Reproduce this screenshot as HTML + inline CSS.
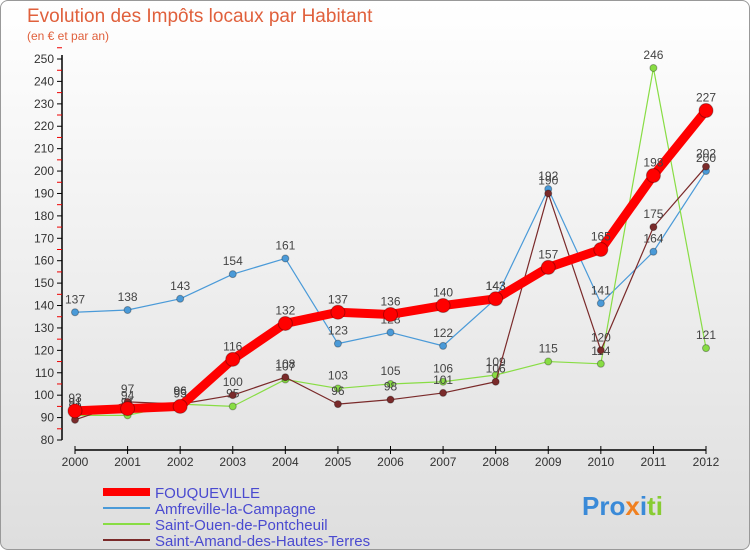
<!DOCTYPE html>
<html><head><meta charset="utf-8"><style>
body{margin:0;width:750px;height:550px;overflow:hidden;font-family:"Liberation Sans",sans-serif}
#wrap{position:absolute;left:0;top:0;width:748px;height:548px;border:1px solid #999;border-radius:8px;background:linear-gradient(#fff,#dedede);overflow:hidden}
</style></head><body>
<div id="wrap">
<svg id="chart" width="750" height="550" style="position:absolute;left:-1px;top:-1px" font-family="Liberation Sans, sans-serif">
<text x="27" y="22" font-size="19" fill="#e0603c">Evolution des Impôts locaux par Habitant</text>
<text x="27" y="40" font-size="12" fill="#e0603c">(en € et par an)</text>
<g id="axes"></g><g id="series"></g>
<g font-size="15" fill="#4a4ad0">
<line x1="103" y1="492" x2="150" y2="492" stroke="#f00" stroke-width="8"/>
<text x="155" y="498">FOUQUEVILLE</text>
<line x1="103" y1="508" x2="150" y2="508" stroke="#4a9ad8" stroke-width="2"/>
<text x="155" y="514">Amfreville-la-Campagne</text>
<line x1="103" y1="524" x2="150" y2="524" stroke="#88dd44" stroke-width="2"/>
<text x="155" y="530">Saint-Ouen-de-Pontcheuil</text>
<line x1="103" y1="540" x2="150" y2="540" stroke="#7a2a2a" stroke-width="2"/>
<text x="155" y="546">Saint-Amand-des-Hautes-Terres</text>
</g>
<text x="582" y="515" font-size="26" font-weight="bold"><tspan fill="#3a8ad8">Pro</tspan><tspan fill="#f08020">x</tspan><tspan fill="#3a8ad8">i</tspan><tspan fill="#88cc33">ti</tspan></text>
</svg></div>
<script>
const years=[2000,2001,2002,2003,2004,2005,2006,2007,2008,2009,2010,2011,2012];
const fouqueville=[93,94,95,116,132,137,136,140,143,157,165,198,227];
const amfreville=[137,138,143,154,161,123,128,122,143,192,141,164,200];
const saintOuen=[91,91,96,95,107,103,105,106,109,115,114,246,121];
const saintAmand=[89,97,96,100,108,96,98,101,106,190,120,175,202];
const yTicks=[80,90,100,110,120,130,140,150,160,170,180,190,200,210,220,230,240,250];
const NS="http://www.w3.org/2000/svg";
const X=i=>75+i*(706-75)/(years.length-1);
const Y=v=>440-(v-80)*(440-59)/170;
function mk(t,a,p){const e=document.createElementNS(NS,t);for(const k in a)e.setAttribute(k,a[k]);p.appendChild(e);return e;}
const ax=document.getElementById('axes');
const yl=mk('line',{x1:62,y1:55,x2:62,y2:440,stroke:'#000','stroke-width':1.5},ax);


yTicks.forEach(v=>{
 mk('line',{x1:57,y1:Y(v),x2:62,y2:Y(v),stroke:'#000'},ax);
 mk('line',{x1:57,y1:Y(v+5),x2:62,y2:Y(v+5),stroke:'#e00'},ax);
 const t=mk('text',{x:54,y:Y(v)+4,'font-size':12,'text-anchor':'end',fill:'#333'},ax);t.textContent=v;
 
 
});
const xl=mk('line',{x1:75,y1:450,x2:706,y2:450,stroke:'#000','stroke-width':1.5},ax);


years.forEach((y,i)=>{
 mk('line',{x1:X(i),y1:446,x2:X(i),y2:454,stroke:'#000'},ax);
 const t=mk('text',{x:X(i),y:466,'font-size':12,'text-anchor':'middle',fill:'#333'},ax);t.textContent=y;
 
 
});
const sg=document.getElementById('series');
function series(data,color,w,r,name){
 const g=mk('g',{},sg);
 
 
 mk('polyline',{points:data.map((v,i)=>X(i)+','+Y(v)).join(' '),fill:'none',stroke:color,'stroke-width':w,'stroke-linejoin':'round'},g);
 data.forEach((v,i)=>{
  const c=mk('circle',{cx:X(i),cy:Y(v),r:r,fill:color,stroke:'rgba(0,0,0,0.3)'},g);
  
  
  const t=mk('text',{x:X(i),y:Y(v)-9,'font-size':12,'text-anchor':'middle',fill:'#444'},g);t.textContent=v;
  
  
 });
}
series(amfreville,'#4a9ad8',1.2,3.5,'series-amfreville');
series(saintOuen,'#88dd44',1.2,3.5,'series-saint-ouen');
series(saintAmand,'#7a2a2a',1.2,3.5,'series-saint-amand');
series(fouqueville,'#f00',9,7,'series-fouqueville');
</script>
</body></html>
